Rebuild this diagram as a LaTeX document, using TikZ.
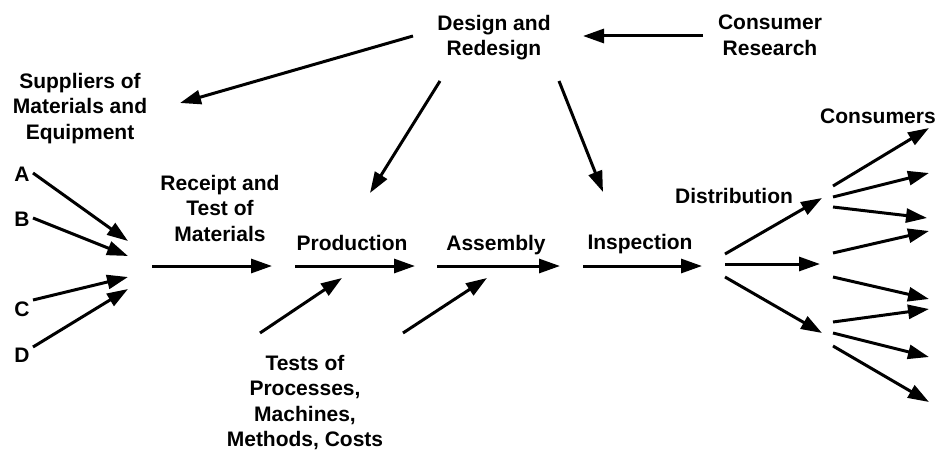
\documentclass[tikz,border=0pt]{standalone}
\usepackage{fontspec}
\setmainfont{Liberation Sans}
\usetikzlibrary{arrows.meta}
\begin{document}
\begin{tikzpicture}[x=1pt,y=-1pt,
  lbl/.style={inner sep=0pt,outer sep=0pt,align=center,anchor=north,
    font=\fontsize{21}{25.5}\selectfont\bfseries},
  arr/.style={line width=3pt,-{Triangle[length=21pt,width=14pt]}}]
\useasboundingbox (0,0) rectangle (949,452);
% labels
\node[lbl] (design) at (494,15) {Design and\\Redesign};
\node[lbl] (cres) at (770,15) {Consumer\\Research};
\node[lbl] (supp) at (80,73) {Suppliers of\\Materials and\\Equipment};
\node[lbl] (A) at (22,167) {A};
\node[lbl] (B) at (22,212) {B};
\node[lbl] (C) at (22,302) {C};
\node[lbl] (D) at (22,348) {D};
\node[lbl] (receipt) at (220,175) {Receipt and\\Test of\\Materials};
\node[lbl] (prod) at (352,235) {Production};
\node[lbl] (assem) at (496,235) {Assembly};
\node[lbl] (insp) at (640,234) {Inspection};
\node[lbl] (distr) at (734,188) {Distribution};
\node[lbl] (cons) at (878,109) {Consumers};
\node[lbl] (tests) at (305,355) {Tests of\\Processes,\\Machines,\\Methods, Costs};
% coordinates
\coordinate (ds) at (413,36); \coordinate (dt) at (180,103);
\coordinate (cs) at (703,36); \coordinate (ct) at (583,36);
\coordinate (dps) at (440,81); \coordinate (dpt) at (370,193);
\coordinate (dis) at (559,81); \coordinate (dit) at (603,192);
\coordinate (as) at (33,173); \coordinate (at1) at (128,241);
\coordinate (bs) at (33,218); \coordinate (bt) at (128,256);
\coordinate (cs2) at (33,300); \coordinate (ct2) at (128,277);
\coordinate (dds) at (33,347); \coordinate (ddt) at (128,289);
\coordinate (m1s) at (152,266); \coordinate (m1t) at (272,266);
\coordinate (m2s) at (295,266); \coordinate (m2t) at (415,266);
\coordinate (m3s) at (437,266); \coordinate (m3t) at (560,266);
\coordinate (m4s) at (583,266); \coordinate (m4t) at (702,266);
\coordinate (t1s) at (260,333); \coordinate (t1t) at (342,278);
\coordinate (t2s) at (403,333); \coordinate (t2t) at (487,278);
\coordinate (d1s) at (725,254); \coordinate (d1t) at (822,198);
\coordinate (d2s) at (725,264); \coordinate (d2t) at (820,264);
\coordinate (d3s) at (725,277); \coordinate (d3t) at (822,333);
\coordinate (k1s) at (833,186); \coordinate (k1t) at (929,128);
\coordinate (k2s) at (833,197); \coordinate (k2t) at (929,173);
\coordinate (k3s) at (833,207); \coordinate (k3t) at (927,218);
\coordinate (k4s) at (833,253); \coordinate (k4t) at (929,231);
\coordinate (k5s) at (833,277); \coordinate (k5t) at (929,299);
\coordinate (k6s) at (833,322); \coordinate (k6t) at (929,309);
\coordinate (k7s) at (833,333); \coordinate (k7t) at (929,357);
\coordinate (k8s) at (833,346); \coordinate (k8t) at (929,402);
% arrows
\foreach \s/\t in {ds/dt,cs/ct,dps/dpt,dis/dit,as/at1,bs/bt,cs2/ct2,dds/ddt,
  m1s/m1t,m2s/m2t,m3s/m3t,m4s/m4t,t1s/t1t,t2s/t2t,d1s/d1t,d2s/d2t,d3s/d3t,
  k1s/k1t,k2s/k2t,k3s/k3t,k4s/k4t,k5s/k5t,k6s/k6t,k7s/k7t,k8s/k8t}
  \draw[arr] (\s) -- (\t);
\end{tikzpicture}
\end{document}
